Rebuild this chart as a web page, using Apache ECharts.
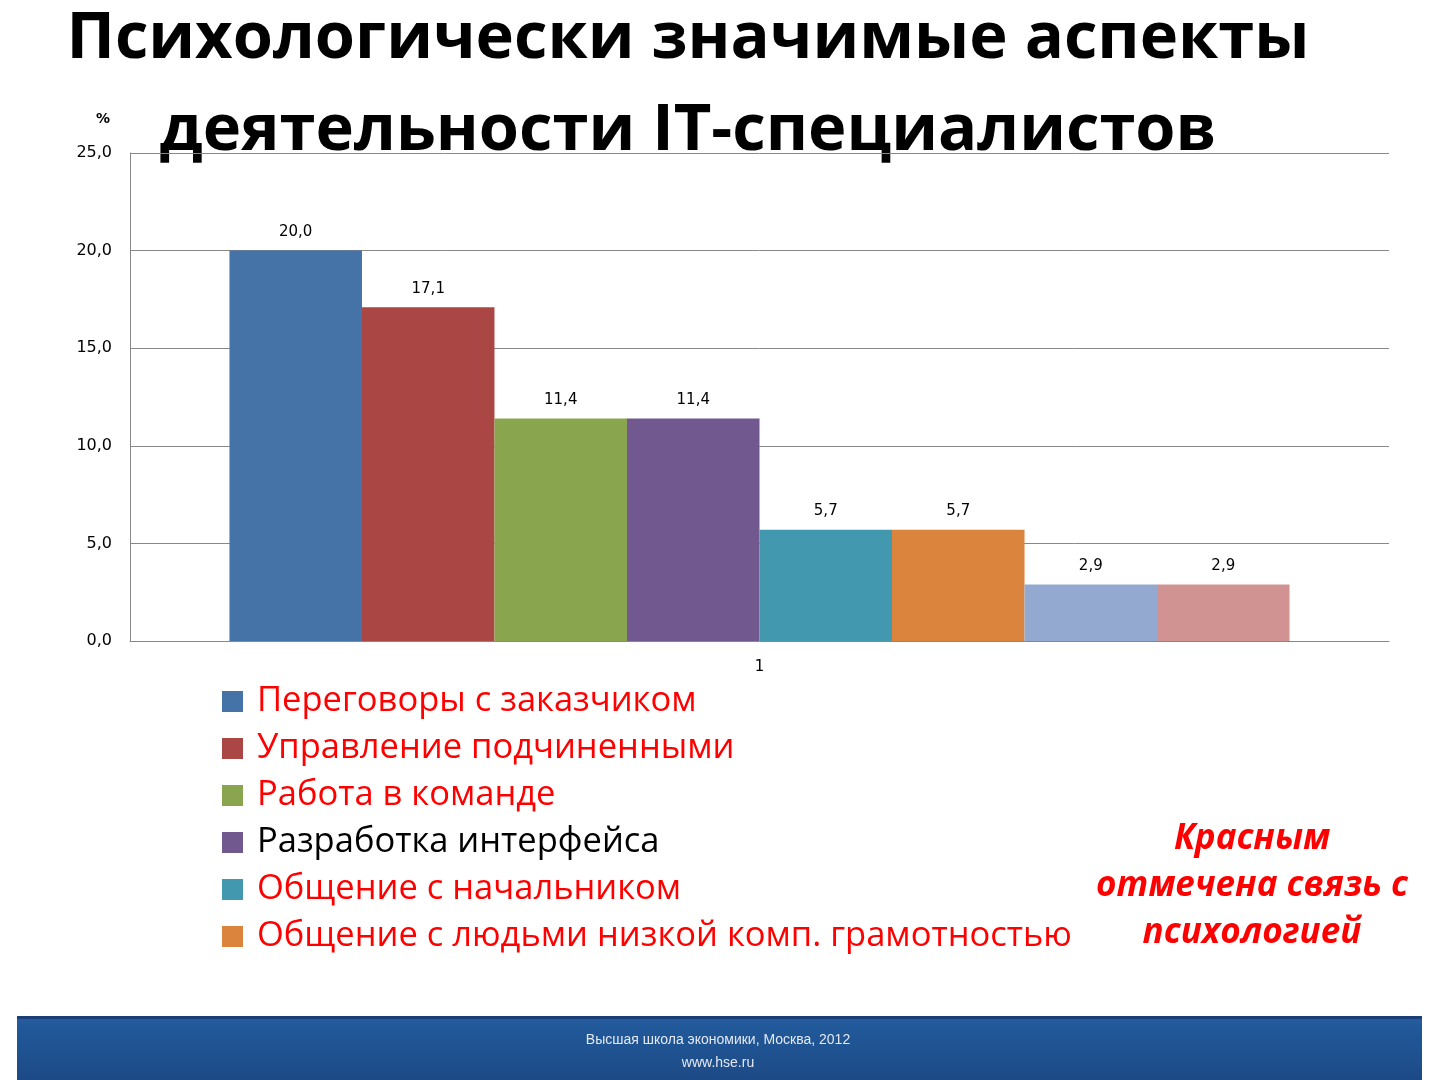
<!DOCTYPE html>
<html><head><meta charset="utf-8">
<script src="https://cdn.jsdelivr.net/npm/echarts@6/dist/echarts.min.js"></script>
<style>html,body{margin:0;padding:0;background:#fff}#c{width:1440px;height:1080px}</style>
</head><body><div id="c"></div>
<script>
const categories = ['1'];
const seriesNames = ['Переговоры с заказчиком','Управление подчиненными','Работа в команде','Разработка интерфейса','Общение с начальником','Общение с людьми низкой комп. грамотностью','Ряд 7','Ряд 8'];
const seriesValues = [20.0, 17.1, 11.4, 11.4, 5.7, 5.7, 2.9, 2.9];
const seriesColors = ['#4572a7','#aa4643','#89a54e','#71588f','#4198af','#db843d','#93a9cf','#d19392'];
const legendTextColors = ['#ff0000','#ff0000','#ff0000','#000000','#ff0000','#ff0000'];
const yTicks = {min:0, max:25, interval:5};

const fmt = v => Number(v).toFixed(1).replace('.', ',');
const chart = echarts.init(document.getElementById('c'));
const series = seriesNames.map((n,i)=>({
  name:n, type:'bar', data:[seriesValues[i]], barGap:'0%', barCategoryGap:'15.8%',
  itemStyle:{color:seriesColors[i]},
  label:{show:true, position:'top', distance:11, color:'#000', fontFamily:'DejaVu Sans', fontSize:15, formatter:p=>fmt(p.value)}
}));
chart.setOption({
  animation:false,
  backgroundColor:'#fff',
  grid:{left:130, right:51, top:153, bottom:439},
  xAxis:{type:'category', data:categories, axisLine:{lineStyle:{color:'#888'}}, axisTick:{show:false},
    axisLabel:{color:'#000', fontFamily:'DejaVu Sans', fontSize:15, margin:19}},
  yAxis:{type:'value', min:yTicks.min, max:yTicks.max, interval:yTicks.interval,
    axisLine:{show:true, lineStyle:{color:'#888'}}, axisTick:{show:false},
    splitLine:{lineStyle:{color:'#888'}},
    axisLabel:{color:'#000', fontFamily:'DejaVu Sans', fontSize:16, margin:18, formatter:fmt}},
  legend:{orient:'vertical', left:222, top:684, padding:0, itemWidth:21, itemHeight:21, itemGap:12, icon:'rect',
    data:seriesNames.slice(0,6).map((n,i)=>({name:n, textStyle:{color:legendTextColors[i]}})),
    textStyle:{fontFamily:'Open Sans', fontSize:34.5, lineHeight:34, padding:[0,0,0,9]}},
  series:series,
  graphic:[
    {type:'text', x:688, y:7, style:{text:'Психологически значимые аспекты', font:'bold 65px "Open Sans"', fill:'#000', align:'center'}},
    {type:'text', x:688, y:99, style:{text:'деятельности IT-специалистов', font:'bold 65px "Open Sans"', fill:'#000', align:'center'}},
    {type:'text', left:96, top:112, style:{text:'%', font:'bold 14px "DejaVu Sans"', fill:'#000'}},
    {type:'text', x:1252, y:816, style:{text:'Красным\nотмечена связь с\nпсихологией', font:'italic bold 35px "Open Sans"', fill:'#ff0000', align:'center', lineHeight:47}},
    {type:'rect', shape:{x:17, y:1016, width:1405, height:64}, style:{fill:new echarts.graphic.LinearGradient(0,0,0,1,[{offset:0,color:'#2a5e9e'},{offset:0.15,color:'#21599a'},{offset:1,color:'#1d4a86'}])}},
    {type:'rect', shape:{x:17, y:1016, width:1405, height:3}, style:{fill:'#1a3f78'}},
    {type:'text', x:718, y:1040, style:{text:'Высшая школа экономики, Москва, 2012', font:'14px "Liberation Sans"', fill:'#e3e8f2', align:'center', verticalAlign:'middle'}},
    {type:'text', x:718, y:1063, style:{text:'www.hse.ru', font:'14px "Liberation Sans"', fill:'#e3e8f2', align:'center', verticalAlign:'middle'}}
  ]
});
</script></body></html>
